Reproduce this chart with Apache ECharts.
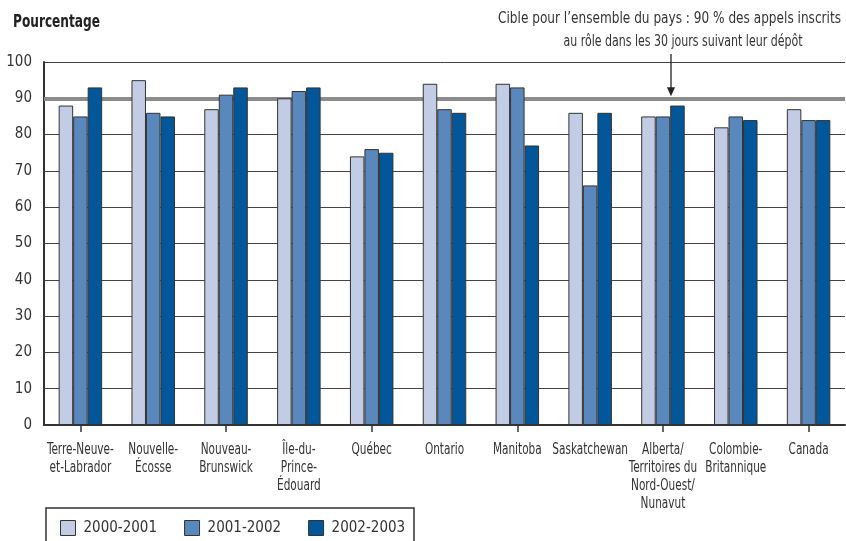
<!DOCTYPE html>
<html>
<head>
<meta charset="utf-8">
<script src="https://cdn.jsdelivr.net/npm/echarts@6/dist/echarts.min.js"></script>
<style>
  html, body { margin: 0; padding: 0; background: #fff; }
  #chart { width: 846px; height: 541px; }
</style>
</head>
<body>
<div id="chart"></div>
<script>
// Provinces / territories shown along the horizontal axis
const categories = [
  'Terre-Neuve-\net-Labrador',
  'Nouvelle-\nÉcosse',
  'Nouveau-\nBrunswick',
  'Île-du-\nPrince-\nÉdouard',
  'Québec',
  'Ontario',
  'Manitoba',
  'Saskatchewan',
  'Alberta/\nTerritoires du\nNord-Ouest/\nNunavut',
  'Colombie-\nBritannique',
  'Canada'
];

// Share of appeals entered within 30 days (%)
const y2000_2001 = [88, 95, 87, 90, 74, 94, 94, 86, 85, 82, 87];
const y2001_2002 = [85, 86, 91, 92, 76, 87, 93, 66, 85, 85, 84];
const y2002_2003 = [93, 85, 93, 93, 75, 86, 77, 86, 88, 84, 84];

const seriesNames = ['2000-2001', '2001-2002', '2002-2003'];
const targetValue = 90;

const FONT = "'DejaVu Sans Condensed', 'DejaVu Sans', sans-serif";
const INK = '#333333';
const colors = ['#c2cde5', '#5a87bc', '#02579a'];
const CONDENSE = 0.78;   // horizontal squeeze for the narrow typeface look

const chart = echarts.init(document.getElementById('chart'), null, { renderer: 'canvas' });

// width-fitting helper for single-line texts
const measureCtx = document.createElement('canvas').getContext('2d');
function textWidth(text, font) {
  measureCtx.font = font;
  return measureCtx.measureText(text).width;
}

function barSeries(name, data, color, withTarget) {
  const s = {
    name: name,
    type: 'bar',
    data: data,
    barWidth: 14.5,
    barGap: '0%',
    itemStyle: { color: color, borderColor: INK, borderWidth: 1 },
    emphasis: { disabled: true },
    animation: false
  };
  if (withTarget) {
    s.markLine = {
      silent: true,
      z: 1,
      symbol: ['none', 'none'],
      label: { show: false },
      lineStyle: { color: '#8c8c8c', width: 4, type: 'solid' },
      data: [{ yAxis: targetValue }],
      animation: false
    };
  }
  return s;
}

chart.setOption({
  backgroundColor: '#ffffff',
  animation: false,
  textStyle: { fontFamily: FONT },
  grid: { left: 44, right: 1, top: 62, bottom: 116, containLabel: false },
  legend: {
    data: seriesNames,
    left: 60,
    top: 520,
    padding: 0,
    itemWidth: 15,
    itemHeight: 15,
    itemGap: 27,
    icon: 'rect',
    selectedMode: false,
    textStyle: { fontFamily: FONT, fontSize: 15, color: INK, padding: [0, 0, 0, 3] },
    itemStyle: { borderColor: INK, borderWidth: 1 }
  },
  xAxis: {
    type: 'category',
    data: categories,
    axisLine: { lineStyle: { color: INK, width: 2 } },
    axisTick: { show: true, alignWithLabel: true, length: 7, lineStyle: { color: INK, width: 1.5 } },
    axisLabel: { show: false },
    splitLine: { show: false }
  },
  yAxis: {
    type: 'value',
    min: 0,
    max: 100,
    interval: 10,
    axisLine: { show: true, lineStyle: { color: INK, width: 2 } },
    axisTick: { show: false },
    axisLabel: {
      margin: 12,
      fontFamily: FONT,
      fontSize: 15,
      color: INK,
      padding: [0, 0, 10, 0]
    },
    splitLine: { show: true, lineStyle: { color: '#444', width: 1 } }
  },
  series: [
    barSeries(seriesNames[0], y2000_2001, colors[0], true),
    barSeries(seriesNames[1], y2001_2002, colors[1], false),
    barSeries(seriesNames[2], y2002_2003, colors[2], false)
  ]
});

const graphics = [];

// Category names under each tick, placed from the category scale
const labelFont = '15px ' + FONT;
const axisBottom = chart.convertToPixel({ yAxisIndex: 0 }, 0);
categories.forEach(function (name, i) {
  const cx = chart.convertToPixel({ xAxisIndex: 0 }, i);
  graphics.push({
    type: 'text',
    x: cx,
    y: axisBottom + 16,
    scaleX: CONDENSE,
    silent: true,
    style: {
      text: name,
      font: labelFont,
      fill: INK,
      align: 'center',
      verticalAlign: 'top',
      lineHeight: 18
    }
  });
});

// Chart unit heading
const titleFont = 'bold 18px ' + FONT;
graphics.push({
  type: 'text',
  x: 13,
  y: 22,
  scaleX: 87 / textWidth('Pourcentage', titleFont),
  silent: true,
  style: { text: 'Pourcentage', font: titleFont, fill: '#222', verticalAlign: 'middle' }
});

// Annotation for the national target, with an arrow pointing at the target line
const noteFont = '16px ' + FONT;
const note1 = 'Cible pour l\u2019ensemble du pays : 90 % des appels inscrits';
const note2 = 'au rôle dans les 30 jours suivant leur dépôt';
graphics.push({
  type: 'text', x: 841, y: 19, scaleX: 343 / textWidth(note1, noteFont), silent: true,
  style: { text: note1, font: noteFont, fill: INK, align: 'right', verticalAlign: 'middle' }
});
graphics.push({
  type: 'text', x: 683, y: 42, scaleX: 239 / textWidth(note2, noteFont), silent: true,
  style: { text: note2, font: noteFont, fill: INK, align: 'center', verticalAlign: 'middle' }
});

const targetY = chart.convertToPixel({ yAxisIndex: 0 }, targetValue);
const arrowX = 671;
graphics.push({
  type: 'line',
  silent: true,
  shape: { x1: arrowX, y1: 54, x2: arrowX, y2: targetY - 8 },
  style: { stroke: '#222', lineWidth: 1.3 }
});
graphics.push({
  type: 'polygon',
  silent: true,
  shape: { points: [[arrowX - 4, targetY - 11], [arrowX + 4, targetY - 11], [arrowX, targetY - 2]] },
  style: { fill: '#222' }
});

// Frame around the legend
graphics.push({
  type: 'rect',
  silent: true,
  shape: { x: 46, y: 508, width: 368, height: 50 },
  style: { fill: 'none', stroke: INK, lineWidth: 1.5 }
});

chart.setOption({ graphic: graphics });
</script>
</body>
</html>
